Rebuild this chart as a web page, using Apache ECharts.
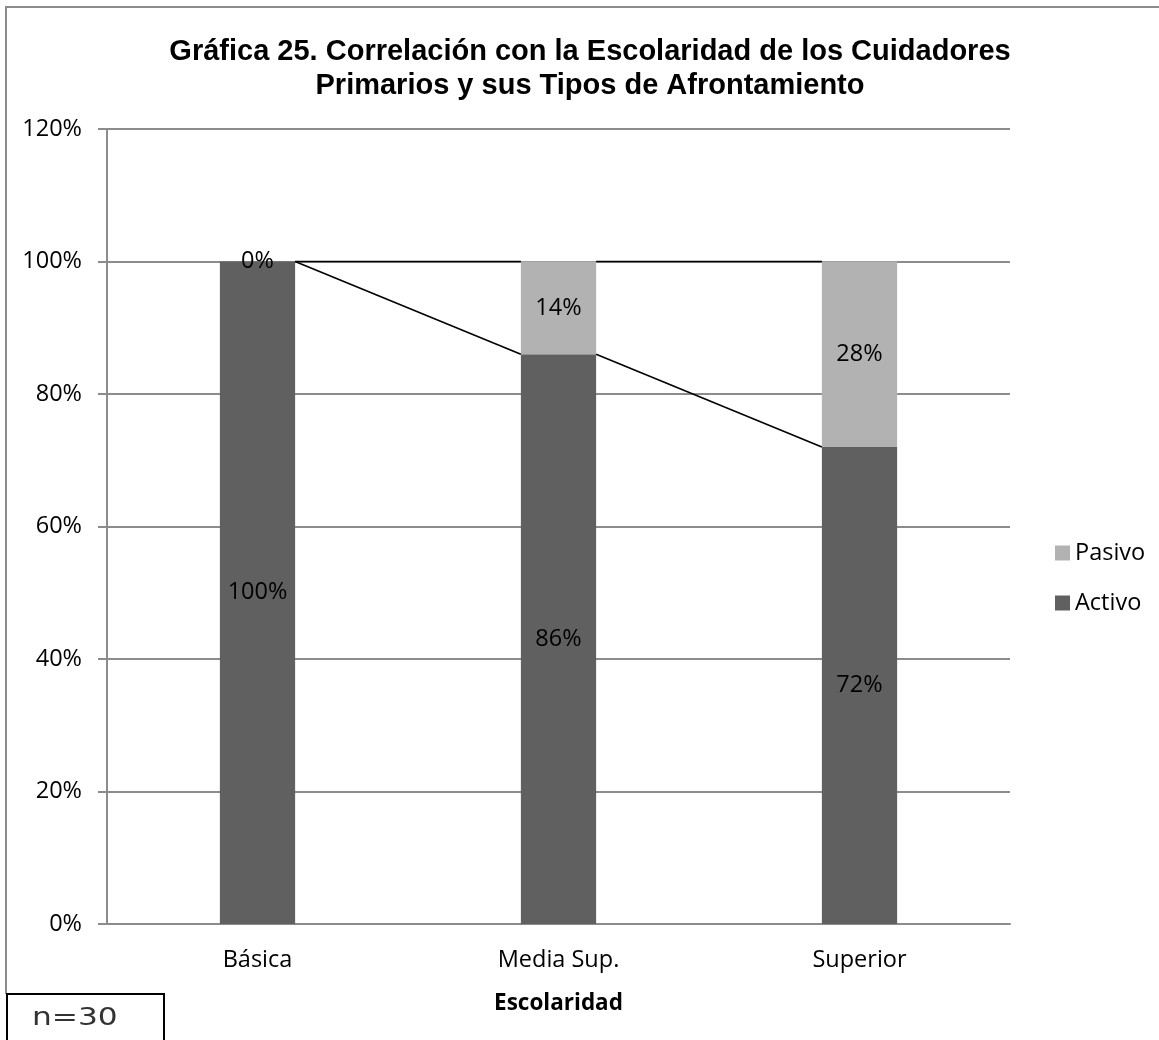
<!DOCTYPE html>
<html>
<head>
<meta charset="utf-8">
<script src="https://cdn.jsdelivr.net/npm/echarts@6/dist/echarts.min.js"></script>
<style>
html,body{margin:0;padding:0;background:#fff;}
#chart{width:1159px;height:1040px;}
</style>
</head>
<body>
<div id="chart"></div>
<script>
const categories = ['Básica', 'Media Sup.', 'Superior'];
const activo = [100, 86, 72];
const pasivo = [0, 14, 28];
const yTicks = [0, 20, 40, 60, 80, 100, 120];
const titleText = 'Gráfica 25. Correlación con la Escolaridad de los Cuidadores\nPrimarios y sus Tipos de Afrontamiento';

const lineData = categories.slice(0, -1).map((c, i) => [
  i, activo[i], activo[i + 1], activo[i] + pasivo[i], activo[i + 1] + pasivo[i + 1]
]);

const chart = echarts.init(document.getElementById('chart'), null, {renderer: 'canvas'});
const labelFont = {fontFamily: 'Open Sans', fontSize: 23.5, color: '#000'};

chart.setOption({
  animation: false,
  backgroundColor: '#fff',
  title: {
    text: titleText,
    left: 585, top: 30, textAlign: 'center',
    textStyle: {fontFamily: 'Liberation Sans', fontWeight: 'bold', fontSize: 29, lineHeight: 34, color: '#000'}
  },
  grid: {left: 107, right: 149, top: 129, bottom: 116},
  legend: {
    orient: 'vertical', left: 1050, top: 536,
    data: ['Pasivo', 'Activo'],
    itemWidth: 15, itemHeight: 15, itemGap: 26,
    icon: 'rect',
    textStyle: labelFont
  },
  xAxis: {
    type: 'category', data: categories,
    axisLine: {show: true, lineStyle: {color: '#8c8c8c', width: 2}},
    axisTick: {show: false},
    axisLabel: Object.assign({margin: 24}, labelFont),
    name: 'Escolaridad', nameLocation: 'middle', nameGap: 68,
    nameTextStyle: {fontFamily: 'Open Sans', fontSize: 22.5, fontWeight: 'bold', color: '#000'}
  },
  yAxis: {
    type: 'value', min: 0, max: 120, interval: 20,
    axisLine: {show: true, lineStyle: {color: '#8c8c8c', width: 2}},
    axisTick: {show: true, inside: false, length: 9, lineStyle: {color: '#8c8c8c', width: 2}},
    splitLine: {show: true, lineStyle: {color: '#8c8c8c', width: 2}},
    axisLabel: Object.assign({margin: 25, formatter: v => yTicks.includes(v) ? v + '%' : ''}, labelFont)
  },
  series: [
    {
      name: 'Activo', type: 'bar', stack: 'total', data: activo, barWidth: '25%',
      itemStyle: {color: '#606060'},
      label: Object.assign({show: true, position: 'inside', formatter: '{c}%'}, labelFont)
    },
    {
      name: 'Pasivo', type: 'bar', stack: 'total', data: pasivo, barWidth: '25%',
      itemStyle: {color: '#b2b2b2'},
      label: Object.assign({show: true, position: 'inside', formatter: '{c}%'}, labelFont)
    },
    {
      name: 'lines', type: 'custom', data: lineData, z: 5,
      encode: {x: 0, y: 1},
      silent: true,
      renderItem: function (params, api) {
        const i = api.value(0);
        const half = api.size([1, 0])[0] * 0.25 / 2;
        const a0 = api.coord([i, api.value(1)]);
        const a1 = api.coord([i + 1, api.value(2)]);
        const t0 = api.coord([i, api.value(3)]);
        const t1 = api.coord([i + 1, api.value(4)]);
        const st = {stroke: '#000', lineWidth: 1.6};
        return {
          type: 'group',
          children: [
            {type: 'line', shape: {x1: a0[0] + half, y1: a0[1], x2: a1[0] - half, y2: a1[1]}, style: st},
            {type: 'line', shape: {x1: t0[0] + half, y1: t0[1], x2: t1[0] - half, y2: t1[1]}, style: st}
          ]
        };
      }
    }
  ],
  graphic: [
    {type: 'polyline', shape: {points: [[6, 994], [6, 7], [1159, 7]]}, style: {stroke: '#8c8c8c', lineWidth: 2, fill: null}},
    {type: 'rect', shape: {x: 7, y: 994, width: 157, height: 60}, style: {fill: '#fff', stroke: '#000', lineWidth: 2}},
    {type: 'text', x: 32, y: 1006, scaleX: 1.25, style: {text: 'n=30', fontFamily: 'DejaVu Sans', fontSize: 25, fill: '#333'}}
  ]
});
</script>
</body>
</html>
